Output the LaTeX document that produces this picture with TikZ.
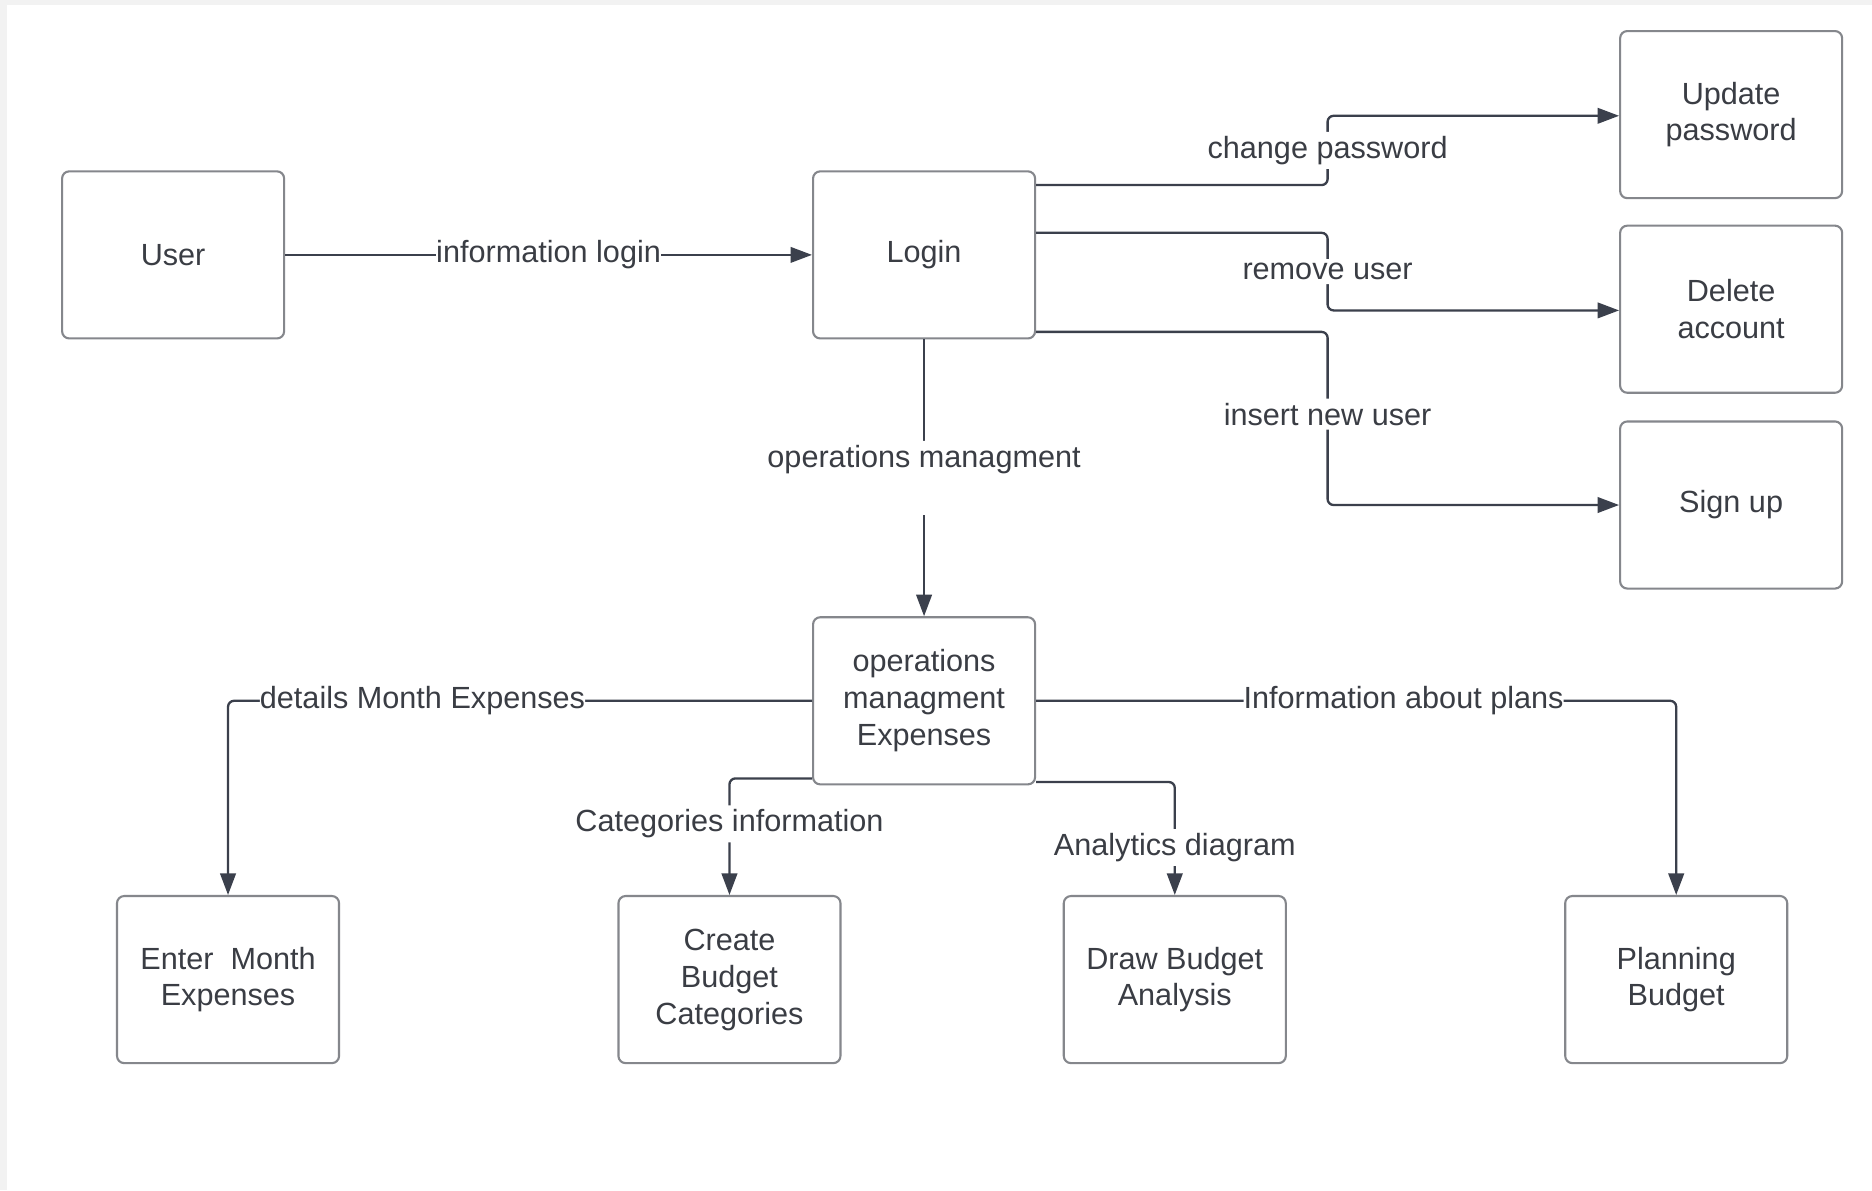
\documentclass[tikz,border=0pt]{standalone}
\usepackage{fontspec}
\setmainfont{Liberation Sans}
\usetikzlibrary{arrows.meta}
\definecolor{txtgray}{HTML}{3A3D44}
\definecolor{boxgray}{HTML}{85878C}
\definecolor{linegray}{HTML}{3B404C}
\definecolor{framegray}{HTML}{F2F2F2}
\tikzset{
    box/.style={draw=boxgray,line width=1pt,rounded corners=0.12cm,fill=white,minimum width=3.72cm,minimum height=2.8cm,align=center,text=txtgray,inner sep=0pt},
    conn/.style={draw=linegray,line width=1.1pt,rounded corners=0.1cm,-{Triangle[length=0.36cm,width=0.26cm]}},
    lbl/.style={fill=white,text=txtgray,inner xsep=0pt,inner ysep=2pt}
}

\begin{document}
\begin{tikzpicture}[x=0.02cm,y=-0.02cm,font=\fontsize{14.6pt}{17.6pt}\selectfont]
    \useasboundingbox (0,0) rectangle (1568,997);
    \fill[framegray] (0,0) rectangle (1568,997);
    \fill[white] (6,4) rectangle (1568,997);
    % top row
    \node[box] (user) at (145,213.5) {User};
    \node[box] (login) at (774,213.5) {Login};
    \node[box] (upd) at (1450,96) {Update\\password};
    \node[box] (del) at (1450,259) {Delete\\account};
    \node[box] (sign) at (1450,423) {Sign up};
    % middle
    \node[box] (ops) at (774,587) {operations\\managment\\Expenses};
    % bottom row
    \node[box] (enter) at (191,820.5) {Enter\ \ Month\\Expenses};
    \node[box] (cat) at (611,820.5) {Create\\Budget\\Categories};
    \node[box] (dba) at (984,820.5) {Draw Budget\\Analysis};
    \node[box] (plan) at (1404,820.5) {Planning\\Budget};
    % connectors
    \draw[conn] (user) -- node[lbl] (linfo) {information login} (login);
    \draw[conn] (login.east |- 0,155) -- (1112,155) -- node[lbl] (lchg) {change password} (1112,97) -- (upd.west |- 0,97);
    \draw[conn] (login.east |- 0,195) -- (1112,195) -- node[lbl] (lrem) {remove user} (1112,260) -- (del.west |- 0,260);
    \draw[conn] (login.east |- 0,278) -- (1112,278) -- node[lbl,pos=0.475] (lins) {insert new user} (1112,423) -- (sign.west);
    \draw[conn] (login) -- node[lbl,text height=0.44cm,text depth=0.8cm,inner ysep=0pt] (lops) {operations managment} (ops);
    \draw[conn] (ops.west) -- node[lbl,pos=0.667] (ldet) {details Month Expenses} (191,587) -- (enter.north);
    \draw[conn] (ops.east) -- node[lbl,pos=0.574] (lplan) {Information about plans} (1404,587) -- (plan.north);
    \draw[conn] (ops.west |- 0,652) -- (611,652) -- node[lbl,pos=0.39] (lcat) {Categories information} (cat.north);
    \draw[conn] (ops.east |- 0,655) -- (984,655) -- node[lbl,pos=0.58] (lana) {Analytics diagram} (dba.north);
\end{tikzpicture}
\end{document}
